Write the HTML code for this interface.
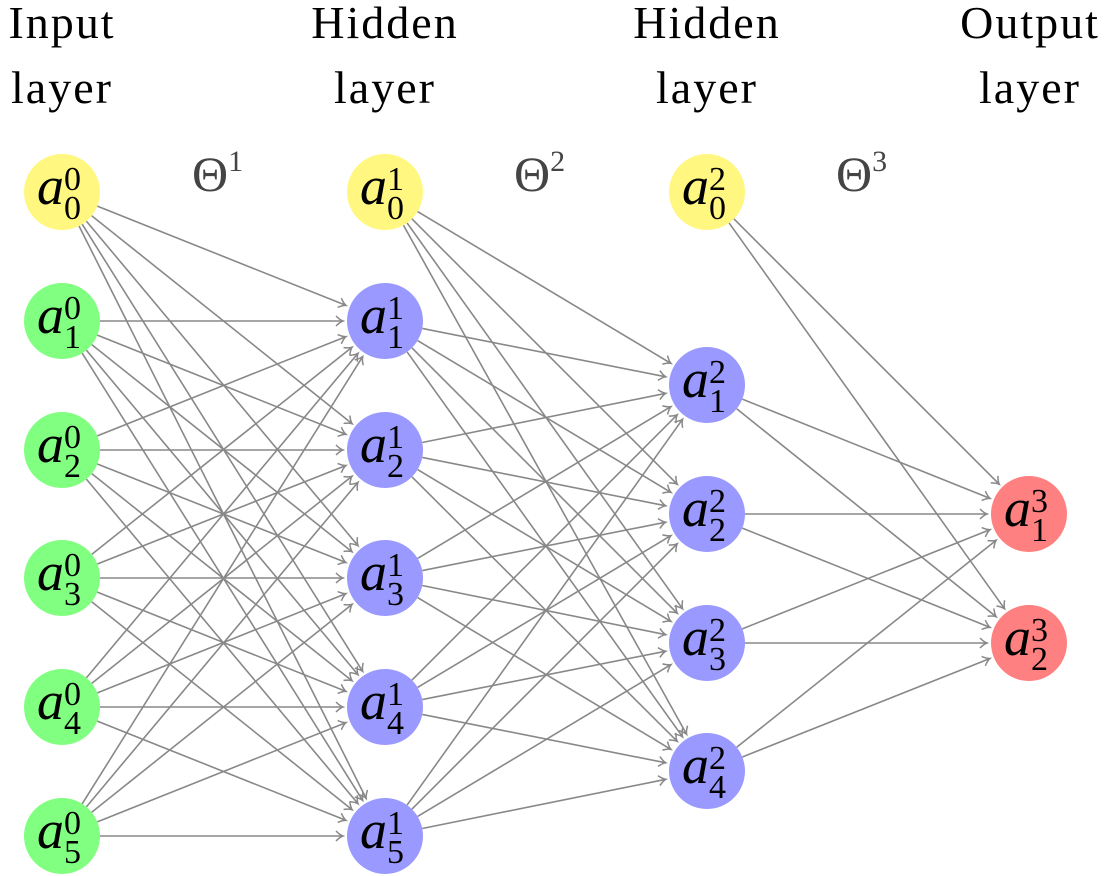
<!DOCTYPE html>
<html><head><meta charset="utf-8"><style>
html,body{margin:0;padding:0;background:#fff;width:1112px;height:876px;overflow:hidden}
svg text{font-family:"Liberation Serif","DejaVu Serif",serif}
</style></head><body>
<svg id="s" width="1112" height="876" xmlns="http://www.w3.org/2000/svg">
<defs>
<marker id="ar" viewBox="-8 -6 10 12" refX="0" refY="0" markerWidth="10" markerHeight="12" markerUnits="userSpaceOnUse" orient="auto">
<path d="M-7,-5 Q-3,-1 0,0 Q-3,1 -7,5" fill="none" stroke="#888" stroke-width="1.5"/>
</marker>
</defs>
<g id="edges" stroke="#888" stroke-width="1.6" fill="none"></g>
<g id="nodes"></g>
<g font-size="46" fill="#000" text-anchor="middle" letter-spacing="2">
<text x="62" y="38">Input</text><text x="62" y="103">layer</text>
<text x="385" y="38">Hidden</text><text x="385" y="103">layer</text>
<text x="707" y="38">Hidden</text><text x="707" y="103">layer</text>
<text x="1030" y="38">Output</text><text x="1030" y="103">layer</text>
</g>
<g font-size="50" fill="#444">
<text x="192" y="191">Θ<tspan font-size="30" dy="-20">1</tspan></text>
<text x="514" y="191">Θ<tspan font-size="30" dy="-20">2</tspan></text>
<text x="836" y="191">Θ<tspan font-size="30" dy="-20">3</tspan></text>
</g>
</svg>
<script>
var L=[
 {x:62,ys:[192,321,450,578,707,836]},
 {x:385,ys:[192,321,450,578,707,836]},
 {x:707,ys:[192,385,514,643,771]},
 {x:1029,ys:[514,643]}];
var col=['#80ff80','#9999ff','#9999ff','#ff8080'];
var ns='http://www.w3.org/2000/svg',E=document.getElementById('edges'),N=document.getElementById('nodes');
var r=38;
for(var l=0;l<3;l++){
 var A=L[l],B=L[l+1];
 for(var i=0;i<A.ys.length;i++)for(var j=(l+1<3?1:0);j<B.ys.length;j++){
  var x1=A.x,y1=A.ys[i],x2=B.x,y2=B.ys[j],dx=x2-x1,dy=y2-y1,d=Math.hypot(dx,dy),ux=dx/d,uy=dy/d;
  var ln=document.createElementNS(ns,'line');
  ln.setAttribute('x1',x1+ux*r);ln.setAttribute('y1',y1+uy*r);
  ln.setAttribute('x2',x2-ux*(r+4));ln.setAttribute('y2',y2-uy*(r+4));
  ln.setAttribute('marker-end','url(#ar)');E.appendChild(ln);
 }
}
for(var l=0;l<4;l++){
 L[l].ys.forEach(function(y,i){
  var c=document.createElementNS(ns,'circle');
  c.setAttribute('cx',L[l].x);c.setAttribute('cy',y);c.setAttribute('r',r);
  c.setAttribute('fill',(l<3&&i==0)?'#fff780':col[l]);N.appendChild(c);
  var sub=(l==3)?i+1:i;
  var t=document.createElementNS(ns,'text');
  t.setAttribute('x',L[l].x-25);t.setAttribute('y',y+12);t.setAttribute('font-size','54');
  t.innerHTML='<tspan font-style="italic">a</tspan>';
  N.appendChild(t);
  var t2=document.createElementNS(ns,'text');t2.setAttribute('x',L[l].x+2);t2.setAttribute('y',y-2);t2.setAttribute('font-size','34');t2.textContent=l;N.appendChild(t2);
  var t3=document.createElementNS(ns,'text');t3.setAttribute('x',L[l].x+2);t3.setAttribute('y',y+27);t3.setAttribute('font-size','34');t3.textContent=sub;N.appendChild(t3);
 });
}
</script>
</body></html>
